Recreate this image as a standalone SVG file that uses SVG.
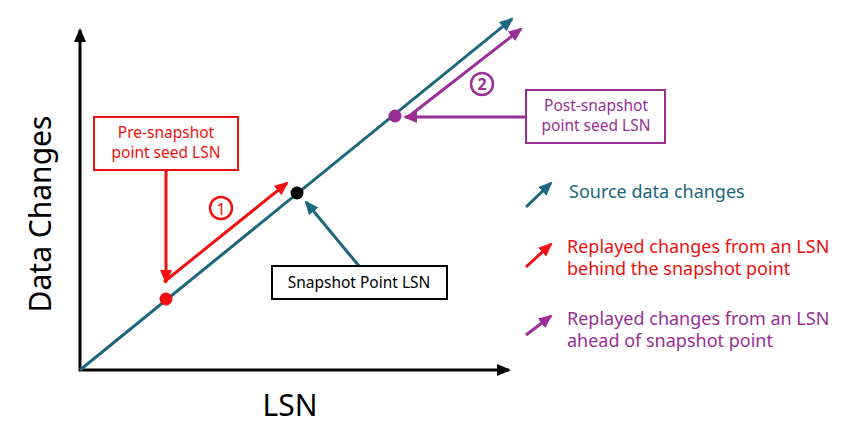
<svg xmlns="http://www.w3.org/2000/svg" width="851" height="428" viewBox="0 0 851 428">
<style>
text{font-family:"Noto Sans","Open Sans","Liberation Sans",sans-serif}
.teal{stroke:#1D6680;fill:none;stroke-width:3}
.red{stroke:#F01010;fill:none;stroke-width:3}
.pur{stroke:#9A2F96;fill:none;stroke-width:3}
.ax{stroke:#000;fill:none;stroke-width:3}
.box{fill:#fff;stroke-width:2}
.lt{font-size:18px}
.bt{font-size:15.5px}
</style>
<defs>
<marker id="mk" markerUnits="userSpaceOnUse" markerWidth="14" markerHeight="12" viewBox="0 0 14 12" refX="12" refY="6" orient="auto"><path d="M0,0L14,6L0,12z" fill="#000"/></marker>
<marker id="mt" markerUnits="userSpaceOnUse" markerWidth="14" markerHeight="12" viewBox="0 0 14 12" refX="12" refY="6" orient="auto"><path d="M0,0L14,6L0,12z" fill="#1D6680"/></marker>
<marker id="mr" markerUnits="userSpaceOnUse" markerWidth="14" markerHeight="12" viewBox="0 0 14 12" refX="12" refY="6" orient="auto"><path d="M0,0L14,6L0,12z" fill="#F01010"/></marker>
<marker id="mp" markerUnits="userSpaceOnUse" markerWidth="14" markerHeight="12" viewBox="0 0 14 12" refX="12" refY="6" orient="auto"><path d="M0,0L14,6L0,12z" fill="#9A2F96"/></marker>
</defs>
<rect width="851" height="428" fill="#fff"/>

<g id="axes">
<line class="ax" x1="80" y1="371" x2="80" y2="30" marker-end="url(#mk)"/>
<line class="ax" x1="79" y1="370" x2="509" y2="370" marker-end="url(#mk)"/>
<text x="290" y="416" font-size="30" text-anchor="middle" fill="#000">LSN</text>
<text transform="translate(51,214) rotate(-90)" font-size="30" text-anchor="middle" fill="#000">Data Changes</text>
</g>

<g id="connectors">
<line class="teal" x1="80" y1="370" x2="512" y2="19" marker-end="url(#mt)"/>
<line class="red" x1="166" y1="170" x2="166" y2="282" marker-end="url(#mr)"/>
<line class="red" x1="164" y1="282" x2="287" y2="183" marker-end="url(#mr)"/>
<line class="pur" x1="526" y1="117" x2="405" y2="117" marker-end="url(#mp)"/>
<line class="pur" x1="408" y1="117" x2="521" y2="29" marker-end="url(#mp)"/>
<line class="teal" x1="359" y1="266" x2="306" y2="202" marker-end="url(#mt)"/>
</g>

<g id="points">
<circle cx="297" cy="193" r="6.5" fill="#000"/>
<circle cx="166" cy="299" r="6.5" fill="#F01010"/>
<circle cx="395" cy="116" r="6.5" fill="#9A2F96"/>
</g>

<g id="badge1">
<circle cx="221" cy="208" r="11" fill="#fff" stroke="#F01010" stroke-width="2.5"/>
<text x="221" y="214.5" font-size="16" text-anchor="middle" fill="#F01010">1</text>
</g>
<g id="badge2">
<circle cx="482" cy="84" r="11" fill="#fff" stroke="#9A2F96" stroke-width="2.5"/>
<text x="482" y="90" font-size="16" font-weight="bold" text-anchor="middle" fill="#9A2F96">2</text>
</g>

<g id="pre-snapshot">
<rect class="box" x="94" y="117" width="144" height="53" stroke="#F01010"/>
<text class="bt" x="166" y="138" text-anchor="middle" fill="#F01010">Pre-snapshot</text>
<text class="bt" x="166" y="158" text-anchor="middle" fill="#F01010">point seed LSN</text>
</g>

<g id="post-snapshot">
<rect class="box" x="526" y="90" width="139" height="53" stroke="#9A2F96"/>
<text class="bt" x="596" y="111" text-anchor="middle" fill="#9A2F96">Post-snapshot</text>
<text class="bt" x="596" y="131" text-anchor="middle" fill="#9A2F96">point seed LSN</text>
</g>

<g id="snapshot-point">
<rect class="box" x="272" y="266" width="175" height="33" stroke="#000"/>
<text class="bt" x="359" y="288" text-anchor="middle" fill="#000">Snapshot Point LSN</text>
</g>

<g id="legend">
<line class="teal" x1="526" y1="207" x2="551" y2="183" marker-end="url(#mt)"/>
<text class="lt" x="569" y="198" fill="#1D6680">Source data changes</text>
<line class="red" x1="526" y1="267" x2="551" y2="244" marker-end="url(#mr)"/>
<text class="lt" x="567" y="253" fill="#F01010">Replayed changes from an LSN</text>
<text class="lt" x="567" y="275" fill="#F01010">behind the snapshot point</text>
<line class="pur" x1="526" y1="335" x2="551" y2="316" marker-end="url(#mp)"/>
<text class="lt" x="567" y="325" fill="#9A2F96">Replayed changes from an LSN</text>
<text class="lt" x="567" y="347" fill="#9A2F96">ahead of snapshot point</text>
</g>
</svg>
